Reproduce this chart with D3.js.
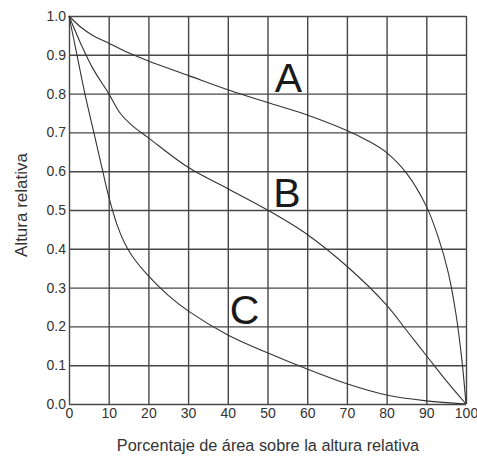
<!DOCTYPE html>
<html>
<head>
<meta charset="utf-8">
<script src="https://cdn.jsdelivr.net/npm/d3@7"></script>
<style>
html,body{margin:0;padding:0;background:#fff;}
svg{display:block;font-family:"Liberation Sans",Arial,sans-serif;}
</style>
</head>
<body>
<svg id="chart" width="477" height="456"></svg>
<script>
// Data
const xTicks = [0,10,20,30,40,50,60,70,80,90,100];
const yTicks = [0,0.1,0.2,0.3,0.4,0.5,0.6,0.7,0.8,0.9,1.0];

const curveA = [[0,1.0],[3,0.971],[6,0.950],[10,0.930],[15,0.905],[20,0.884],[30,0.847],[40,0.81],[50,0.777],[60,0.745],[70,0.705],[75,0.68],[80,0.648],[85,0.595],[90,0.51],[93,0.43],[95.5,0.34],[97.5,0.23],[99,0.11],[100,0.0]];
const curveB = [[0,1.0],[3,0.928],[6,0.865],[10,0.80],[13,0.748],[16,0.717],[20,0.686],[30,0.61],[40,0.555],[50,0.50],[60,0.437],[70,0.355],[80,0.255],[85,0.19],[90,0.125],[95,0.06],[100,0.0]];
const curveC = [[0,1.0],[2,0.9],[4,0.8],[6.25,0.7],[8.5,0.6],[10,0.535],[12,0.465],[14,0.415],[16,0.38],[20,0.33],[25,0.28],[30,0.24],[40,0.178],[50,0.132],[60,0.09],[70,0.052],[80,0.023],[90,0.008],[100,0.0]];

const seriesNames = ["A","B","C"];
const labelPos = [[55.3,0.804],[54.9,0.508],[44.2,0.206]];

const xTitle = "Porcentaje de área sobre la altura relativa";
const yTitle = "Altura relativa";

const svg = d3.select("#chart");
const L = 69, R = 466, T = 16, B = 404;
const x = d3.scaleLinear().domain([0,100]).range([L,R]);
const y = d3.scaleLinear().domain([0,1]).range([B,T]);

const gridColor = "#474747";
const textColor = "#333";

// X axis with grid
const xAxis = svg.append("g")
  .attr("transform", `translate(0,${B})`)
  .call(d3.axisBottom(x).tickValues(xTicks).tickFormat(d3.format("d")).tickSize(-(B-T)).tickPadding(4));
xAxis.select(".domain").remove();
xAxis.selectAll("line").attr("stroke", gridColor).attr("stroke-width", 1.4);
xAxis.selectAll("text").attr("font-size", 14).attr("fill", textColor).attr("font-family", "Liberation Sans, Arial, sans-serif");

// Y axis with grid
const yAxis = svg.append("g")
  .attr("transform", `translate(${L},0)`)
  .call(d3.axisLeft(y).tickValues(yTicks).tickFormat(d3.format(".1f")).tickSize(-(R-L)).tickPadding(3));
yAxis.select(".domain").remove();
yAxis.selectAll("line").attr("stroke", gridColor).attr("stroke-width", 1.4);
yAxis.selectAll("text").attr("font-size", 14).attr("fill", textColor).attr("font-family", "Liberation Sans, Arial, sans-serif");

// Curves
const line = d3.line().x(d => x(d[0])).y(d => y(d[1])).curve(d3.curveCatmullRom.alpha(0.5));
[curveA, curveB, curveC].forEach(c => {
  svg.append("path").datum(c)
    .attr("d", line)
    .attr("fill", "none")
    .attr("stroke", "#333")
    .attr("stroke-width", 1.1);
});

// Series labels
seriesNames.forEach((n,i) => {
  svg.append("text")
    .attr("x", x(labelPos[i][0]))
    .attr("y", y(labelPos[i][1]))
    .attr("text-anchor", "middle")
    .attr("font-size", 41)
    .attr("fill", "#1a1a1a")
    .text(n);
});

// Axis titles
svg.append("text")
  .attr("x", 268).attr("y", 451)
  .attr("text-anchor", "middle")
  .attr("font-size", 16.3)
  .attr("fill", textColor)
  .text(xTitle);

svg.append("text")
  .attr("transform", "translate(27,205) rotate(-90)")
  .attr("text-anchor", "middle")
  .attr("font-size", 17)
  .attr("fill", textColor)
  .text(yTitle);
</script>
</body>
</html>
